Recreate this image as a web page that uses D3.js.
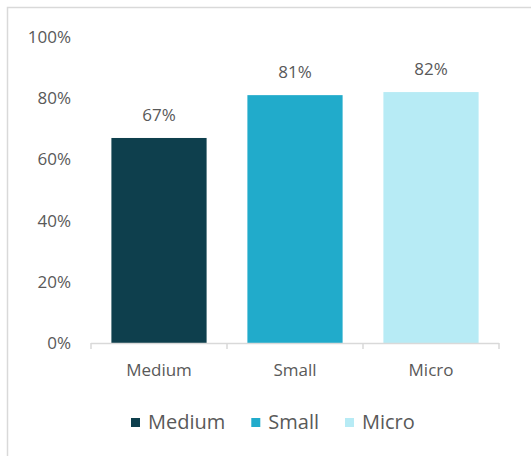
<!DOCTYPE html>
<html>
<head>
<meta charset="utf-8">
<script src="https://cdn.jsdelivr.net/npm/d3@7"></script>
<style>
  html, body { margin: 0; padding: 0; background: #fff; }
  svg { display: block; }
  text { font-family: "Open Sans", "Liberation Sans", sans-serif; fill: #595959; }
</style>
</head>
<body>
<svg id="chart" width="531" height="456"></svg>
<script>
// Share of firms by size class
const categories = ["Medium", "Small", "Micro"];
const values = [0.67, 0.81, 0.82];
const colors = ["#0e3f4d", "#21abcb", "#b7ebf5"];
const yTicks = [0, 0.2, 0.4, 0.6, 0.8, 1.0];

const svg = d3.select("#chart");
const W = 531, H = 456;
const margin = { left: 91, right: 32, top: 37, bottom: 113 };
const plotW = W - margin.left - margin.right;
const plotH = H - margin.top - margin.bottom;
const fs = 17;

// Chart frame
svg.append("rect")
  .attr("x", 7.5).attr("y", 7.5)
  .attr("width", W + 10).attr("height", H + 10)
  .attr("fill", "none").attr("stroke", "#d9d9d9").attr("stroke-width", 1.5);

const g = svg.append("g").attr("transform", `translate(${margin.left},${margin.top})`);

const x = d3.scaleBand().domain(categories).range([0, plotW]).paddingInner(0.3).paddingOuter(0.15);
const y = d3.scaleLinear().domain([0, 1]).range([plotH, 0]);

// Y axis labels only (no line, no gridlines)
const yAxis = g.append("g")
  .call(d3.axisLeft(y).tickValues(yTicks).tickFormat(d3.format(".0%")).tickSize(0).tickPadding(20));
yAxis.attr("font-size", null).attr("font-family", null);
yAxis.select(".domain").remove();
yAxis.selectAll("text").style("font-size", fs + "px").style("fill", "#595959");

// Bars
g.selectAll("rect.bar").data(values).join("rect")
  .attr("class", "bar")
  .attr("x", (d, i) => x(categories[i]))
  .attr("y", d => y(d))
  .attr("width", x.bandwidth())
  .attr("height", d => plotH - y(d))
  .attr("fill", (d, i) => colors[i]);

// Value labels
g.selectAll("text.val").data(values).join("text")
  .attr("class", "val")
  .attr("x", (d, i) => x(categories[i]) + x.bandwidth() / 2)
  .attr("y", d => y(d) - 17)
  .style("font-size", fs + "px")
  .attr("text-anchor", "middle")
  .text(d3.format(".0%"));

// X axis with category ticks at band edges
const xAxisG = g.append("g").attr("transform", `translate(0,${plotH})`);
xAxisG.append("line")
  .attr("x1", 0).attr("x2", plotW).attr("y1", 0.5).attr("y2", 0.5)
  .attr("stroke", "#d9d9d9").attr("stroke-width", 1.5);
const edges = categories.map((c, i) => i * plotW / categories.length).concat([plotW]);
xAxisG.selectAll("line.tick").data(edges).join("line")
  .attr("class", "tick")
  .attr("x1", d => d).attr("x2", d => d)
  .attr("y1", 0).attr("y2", 6)
  .attr("stroke", "#d9d9d9").attr("stroke-width", 1.5);
xAxisG.selectAll("text.cat").data(categories).join("text")
  .attr("class", "cat")
  .attr("x", d => x(d) + x.bandwidth() / 2)
  .attr("y", 33)
  .attr("text-anchor", "middle")
  .style("font-size", fs + "px")
  .text(d => d);

// Legend
const legend = svg.append("g").attr("transform", "translate(0,422)");
let lx = 131;
categories.forEach((c, i) => {
  legend.append("rect")
    .attr("x", lx).attr("y", -4).attr("width", 9).attr("height", 9)
    .attr("fill", colors[i]);
  const t = legend.append("text")
    .attr("x", lx + 17).attr("y", 7)
    .style("font-size", "20px")
    .text(c);
  lx += 17 + t.node().getComputedTextLength() + 26;
});
</script>
</body>
</html>
